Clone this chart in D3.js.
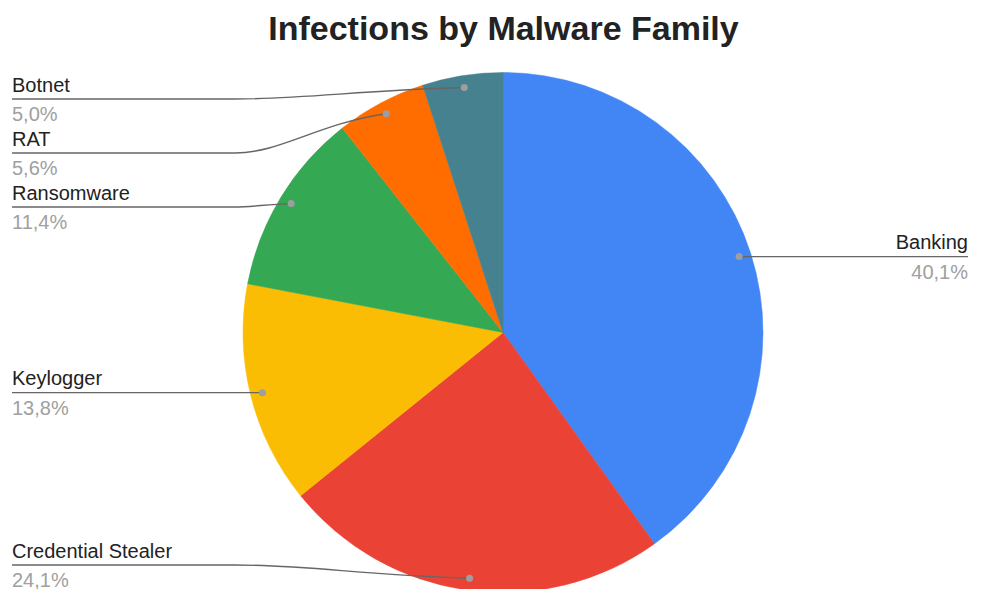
<!DOCTYPE html>
<html>
<head>
<meta charset="utf-8">
<script src="https://cdn.jsdelivr.net/npm/d3@7"></script>
<style>
  html, body { margin: 0; padding: 0; background: #fff; }
  svg { display: block; font-family: "Liberation Sans", Arial, sans-serif; }
</style>
</head>
<body>
<svg id="chart" width="998" height="589"></svg>
<script>
// Malware family shares (percent), clockwise from 12 o'clock
const categories = ["Banking", "Credential Stealer", "Keylogger", "Ransomware", "RAT", "Botnet"];
const shares = [40.1, 24.1, 13.8, 11.4, 5.6, 5.0];
const colors = ["#4285F4", "#EA4335", "#FBBC04", "#34A853", "#FF6D01", "#45818E"];
const valueLabels = ["40,1%", "24,1%", "13,8%", "11,4%", "5,6%", "5,0%"];
const title = "Infections by Malware Family";

const W = 998, H = 589;
const cx = 503, cy = 332.5, R = 260;

const svg = d3.select("#chart");

svg.append("text")
  .attr("x", 503.5).attr("y", 40)
  .attr("text-anchor", "middle")
  .attr("font-size", 34).attr("font-weight", "bold")
  .attr("fill", "#222")
  .text(title);

const data = categories.map((c, i) => ({ name: c, value: shares[i], color: colors[i], label: valueLabels[i] }));

const pie = d3.pie().sort(null).value(d => d.value);
const arcs = pie(data);
const arc = d3.arc().innerRadius(0).outerRadius(R);
const dotArc = d3.arc().innerRadius(R - 12).outerRadius(R - 12);

const g = svg.append("g").attr("transform", `translate(${cx},${cy})`);
g.selectAll("path.slice")
  .data(arcs)
  .join("path")
  .attr("class", "slice")
  .attr("d", arc)
  .attr("fill", d => d.data.color)
  .attr("stroke", d => d.data.color)
  .attr("stroke-width", 0.5);

// Anchor points for leader lines inside each slice
arcs.forEach(a => {
  const [x, y] = dotArc.centroid(a);
  a.dx = cx + x; a.dy = cy + y;
  a.side = x >= 0 ? "right" : "left";
});

// Resolve vertical label positions per side
function layout(side, minY, maxY, gap) {
  const items = arcs.filter(a => a.side === side).sort((a, b) => a.dy - b.dy);
  items.forEach(a => { a.ly = Math.min(maxY, Math.max(minY, a.dy)); });
  for (let i = 1; i < items.length; i++) {
    items[i].ly = Math.max(items[i].ly, items[i - 1].ly + gap);
  }
  for (let i = items.length - 1; i >= 0; i--) {
    if (items[i].ly > maxY) items[i].ly = maxY;
    if (i < items.length - 1) items[i].ly = Math.min(items[i].ly, items[i + 1].ly - gap);
  }
}
layout("left", 99, 565, 54);
layout("right", 99, 565, 54);

const labels = svg.append("g");

arcs.forEach(a => {
  const left = a.side === "left";
  const x0 = left ? 12 : 968;
  const xb = left ? 235 : 760;
  let path;
  if (Math.abs(a.ly - a.dy) < 1.5) {
    path = `M${x0},${a.ly}L${a.dx},${a.dy}`;
  } else {
    const span = a.dx - xb;
    const rise = a.dy - a.ly;
    path = `M${x0},${a.ly}L${xb},${a.ly}C${xb + span * 0.3},${a.ly} ${xb + span * 0.55},${a.ly + rise * 0.75} ${a.dx},${a.dy}`;
  }
  labels.append("path")
    .attr("d", path)
    .attr("fill", "none")
    .attr("stroke", "#666")
    .attr("stroke-width", 1.4);
  labels.append("circle")
    .attr("cx", a.dx).attr("cy", a.dy).attr("r", 3.5)
    .attr("fill", "#9e9e9e");
  labels.append("text")
    .attr("x", x0).attr("y", a.ly - 7.5)
    .attr("text-anchor", left ? "start" : "end")
    .attr("font-size", 20).attr("fill", "#222")
    .text(a.data.name);
  labels.append("text")
    .attr("x", x0).attr("y", a.ly + 22)
    .attr("text-anchor", left ? "start" : "end")
    .attr("font-size", 20).attr("fill", "#a0a0a0")
    .text(a.data.label);
});
</script>
</body>
</html>
